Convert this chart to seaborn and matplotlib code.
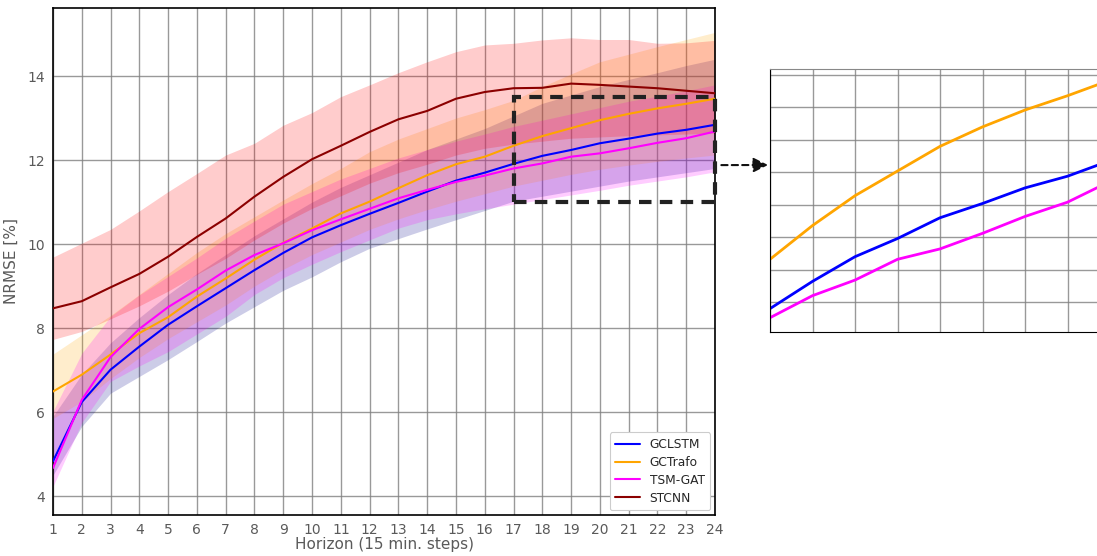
import numpy as np
import pandas as pd
import matplotlib
matplotlib.use("Agg")
import matplotlib.pyplot as plt
from matplotlib.patches import Rectangle
import seaborn as sns

# Forecast horizon (15 min steps)
horizon = list(range(1, 25))

# Mean NRMSE [%] per model
gclstm = [4.83, 6.24, 7.01, 7.56, 8.08, 8.52, 8.95, 9.38, 9.79, 10.16, 10.45, 10.72,
          10.98, 11.25, 11.51, 11.70, 11.91, 12.10, 12.24, 12.40, 12.51, 12.63, 12.72, 12.84]
gctrafo = [6.49, 6.89, 7.37, 7.88, 8.26, 8.75, 9.18, 9.63, 10.03, 10.37, 10.73, 11.01,
           11.33, 11.64, 11.90, 12.08, 12.34, 12.57, 12.76, 12.95, 13.10, 13.23, 13.34, 13.46]
tsmgat = [4.67, 6.29, 7.31, 7.98, 8.50, 8.92, 9.37, 9.74, 10.02, 10.33, 10.59, 10.84,
          11.09, 11.29, 11.48, 11.63, 11.80, 11.92, 12.08, 12.16, 12.28, 12.41, 12.52, 12.68]
stcnn = [8.47, 8.64, 8.97, 9.29, 9.70, 10.17, 10.61, 11.13, 11.60, 12.02, 12.34, 12.67,
         12.97, 13.17, 13.46, 13.62, 13.71, 13.72, 13.82, 13.79, 13.75, 13.71, 13.65, 13.59]

# Spread bands (lower / upper)
gclstm_lo = [4.50, 5.66, 6.45, 6.85, 7.25, 7.68, 8.12, 8.51, 8.90, 9.22, 9.58, 9.90,
             10.13, 10.36, 10.58, 10.80, 11.02, 11.14, 11.26, 11.38, 11.50, 11.60, 11.70, 11.80]
gclstm_hi = [5.90, 6.90, 7.65, 8.25, 8.80, 9.30, 9.75, 10.20, 10.60, 11.00, 11.35, 11.65,
             11.95, 12.25, 12.50, 12.75, 13.05, 13.35, 13.55, 13.75, 13.92, 14.08, 14.25, 14.40]
gctrafo_lo = [5.85, 6.25, 6.80, 7.30, 7.75, 8.15, 8.55, 9.00, 9.40, 9.75, 10.05, 10.35,
              10.60, 10.82, 11.02, 11.20, 11.38, 11.52, 11.66, 11.78, 11.88, 11.97, 12.05, 12.12]
gctrafo_hi = [7.38, 7.84, 8.30, 8.80, 9.30, 9.80, 10.25, 10.65, 11.05, 11.44, 11.80, 12.20,
              12.50, 12.75, 13.00, 13.20, 13.42, 13.75, 14.05, 14.34, 14.52, 14.70, 14.87, 15.04]
tsmgat_lo = [4.23, 5.75, 6.73, 7.10, 7.44, 7.86, 8.28, 8.80, 9.20, 9.52, 9.82, 10.10,
             10.38, 10.58, 10.72, 10.84, 10.95, 11.06, 11.17, 11.28, 11.40, 11.50, 11.60, 11.72]
tsmgat_hi = [6.02, 7.40, 8.28, 8.79, 9.23, 9.67, 10.14, 10.55, 10.95, 11.25, 11.55, 11.80,
             12.05, 12.25, 12.45, 12.62, 12.80, 12.95, 13.10, 13.25, 13.40, 13.52, 13.65, 13.79]
stcnn_lo = [7.73, 7.92, 8.22, 8.53, 8.88, 9.28, 9.66, 10.10, 10.50, 10.85, 11.15, 11.45,
            11.70, 11.90, 12.12, 12.28, 12.38, 12.45, 12.52, 12.55, 12.58, 12.60, 12.62, 12.64]
stcnn_hi = [9.69, 10.02, 10.35, 10.79, 11.25, 11.68, 12.12, 12.40, 12.83, 13.13, 13.51, 13.79,
            14.08, 14.34, 14.58, 14.74, 14.78, 14.86, 14.91, 14.87, 14.87, 14.78, 14.79, 14.85]

models = ["GCLSTM", "GCTrafo", "TSM-GAT", "STCNN"]
means = [gclstm, gctrafo, tsmgat, stcnn]
lows = [gclstm_lo, gctrafo_lo, tsmgat_lo, stcnn_lo]
highs = [gclstm_hi, gctrafo_hi, tsmgat_hi, stcnn_hi]
line_colors = {"GCLSTM": "blue", "GCTrafo": "orange", "TSM-GAT": "magenta", "STCNN": "darkred"}
band_colors = {"GCLSTM": "darkblue", "GCTrafo": "orange", "TSM-GAT": "magenta", "STCNN": "red"}

df = pd.concat(
    [pd.DataFrame({"horizon": horizon, "nrmse": m, "model": name})
     for name, m in zip(models, means)],
    ignore_index=True,
)

sns.set_style("white")
plt.rcParams["font.family"] = ["DejaVu Sans"]

W, H = 1097, 556
fig = plt.figure(figsize=(W / 100, H / 100), dpi=100)

# Main panel
ax = fig.add_axes([53 / W, 1 - 515 / H, (715 - 53) / W, (515 - 8) / H])
for name, lo, hi in zip(models, lows, highs):
    ax.fill_between(horizon, lo, hi, color=band_colors[name], alpha=0.2, lw=0, zorder=2)
sns.lineplot(data=df, x="horizon", y="nrmse", hue="model", palette=line_colors,
             linewidth=1.5, ax=ax, zorder=3)

ax.set_xlim(1, 24)
ax.set_ylim(3.55, 15.62)
ax.set_xticks(horizon)
ax.set_yticks([4, 6, 8, 10, 12, 14])
ax.grid(True, color="#808080", linewidth=1.0, alpha=0.8, zorder=0)
ax.set_axisbelow(True)
ax.tick_params(axis="both", labelsize=10, labelcolor="#5a5a5a", color="#333333",
               length=3.5, width=1, direction="out", pad=2.5)
for sp in ax.spines.values():
    sp.set_color("black")
    sp.set_linewidth(1.2)
ax.set_xlabel("Horizon (15 min. steps)", fontsize=11, color="#5a5a5a", labelpad=0)
ax.set_ylabel("NRMSE [%]", fontsize=11, color="#5a5a5a", labelpad=6)

leg = ax.legend(loc="lower right", fontsize=8.8, frameon=True, framealpha=1.0,
                edgecolor="#cccccc", handlelength=2.0, borderpad=0.45,
                labelspacing=0.4, borderaxespad=0.4)
leg.get_frame().set_linewidth(0.8)

# Zoom region marker and arrow towards the detail panel
ax.add_patch(Rectangle((17, 11), 7, 2.5, fill=False, linestyle=(0, (3, 2)),
                       linewidth=3, edgecolor="#222222", clip_on=False, zorder=5))
ax.annotate("", xy=(768 / W, 1 - 165 / H), xycoords="figure fraction",
            xytext=(24.22, 11.88), textcoords="data",
            arrowprops=dict(arrowstyle="-|>", linestyle=(0, (3, 2)), color="#111111",
                            lw=1.5, mutation_scale=22, shrinkA=0, shrinkB=0))

# Detail panel
ix = fig.add_axes([770 / W, 1 - 332 / H, 340 / W, (332 - 69) / H])
for name, m in zip(models[:3], means[:3]):
    ix.plot(horizon, m, color=line_colors[name], linewidth=2.0)
ix.set_xlim(16, 24)
ix.set_ylim(11.52, 13.546)
ix.set_xticks(range(16, 25))
ix.set_yticks(np.arange(11.75, 13.51, 0.25))
ix.set_xticklabels([])
ix.set_yticklabels([])
ix.grid(True, color="#808080", linewidth=1.0, alpha=0.8)
ix.tick_params(axis="both", length=3, width=1, color="#333333", direction="out")
ix.spines["left"].set_color("black")
ix.spines["bottom"].set_color("black")
ix.spines["top"].set_color("#888888")
ix.spines["right"].set_visible(False)

fig.savefig("out.png", dpi=100)
